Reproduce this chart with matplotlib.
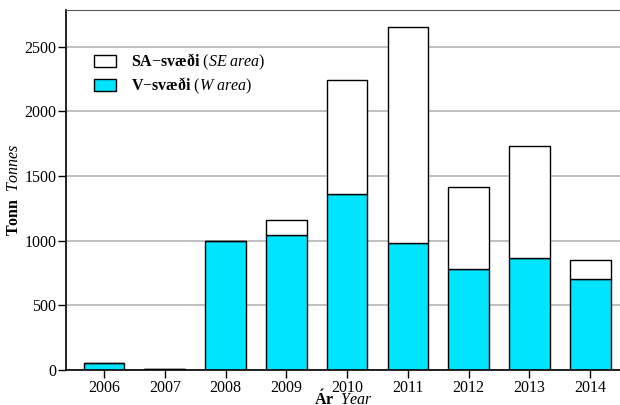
import matplotlib
matplotlib.use("Agg")
import matplotlib.pyplot as plt
import numpy as np

years = ["2006", "2007", "2008", "2009", "2010", "2011", "2012", "2013", "2014"]
w_area = [52, 5, 995, 1043, 1360, 985, 778, 865, 705]
se_area = [0, 0, 5, 114, 885, 1665, 640, 865, 145]
yticks = [0, 500, 1000, 1500, 2000, 2500]

plt.rcParams['font.family'] = ['Liberation Serif', 'DejaVu Serif']
plt.rcParams['mathtext.fontset'] = 'custom'
plt.rcParams['mathtext.rm'] = 'Liberation Serif'
plt.rcParams['mathtext.bf'] = 'Liberation Serif:bold'
plt.rcParams['mathtext.it'] = 'Liberation Serif:italic'

fig = plt.figure(figsize=(6.2, 4.05), dpi=100)
ax = fig.add_axes([66/620, 35/405, (620-66)/620, (370-9.5)/405])

x = np.arange(len(years))
cyan = '#00E5FF'
b1 = ax.bar(x, w_area, width=0.67, color=cyan, edgecolor='black', linewidth=1.0, zorder=2)
b2 = ax.bar(x, se_area, bottom=w_area, width=0.67, color='white', edgecolor='black', linewidth=1.0, zorder=2)

ax.set_xlim(-0.625, 8.49)
ax.set_ylim(0, 2786)
ax.set_xticks(x)
ax.set_xticklabels(years)
ax.set_yticks(yticks)
ax.set_yticklabels([str(v) for v in yticks])
ax.tick_params(axis='both', labelsize=11.5, direction='out', length=6, width=1, colors='black')
ax.tick_params(axis='x', pad=1.5)
ax.tick_params(axis='y', pad=1)
ax.grid(axis='y', color='#b5b5b5', linewidth=1.2)
ax.set_axisbelow(True)

ax.spines['right'].set_visible(False)
ax.spines['top'].set_color('#555555')
ax.spines['left'].set_linewidth(1.2)
ax.spines['bottom'].set_linewidth(1.2)

ax.set_xlabel(r'$\mathbf{\'Ar}$  $\mathit{Year}$', fontsize=11.5)
ax.set_ylabel(r'$\mathbf{Tonn}$  $\mathit{Tonnes}$', fontsize=11.5)
ax.yaxis.set_label_coords((22-66)/554, 0.5)
ax.xaxis.set_label_coords(0.5, -(405-370)/360.5)
ax.xaxis.label.set_va('baseline')

leg = ax.legend([b2, b1],
                [r'$\mathbf{SA}$' + '\u2212' + r'$\mathbf{svæði}$ $\mathit{(SE\ area)}$',
                 r'$\mathbf{V}$' + '\u2212' + r'$\mathbf{svæði}$ $\mathit{(W\ area)}$'],
                loc='upper left', bbox_to_anchor=(28/554, 1-(52-9.5)/360.5),
                frameon=False, fontsize=11.5, handlelength=1.4, handleheight=0.8,
                handletextpad=0.9, labelspacing=0.25, borderaxespad=0, borderpad=0)

fig.savefig('out.png', dpi=100)
